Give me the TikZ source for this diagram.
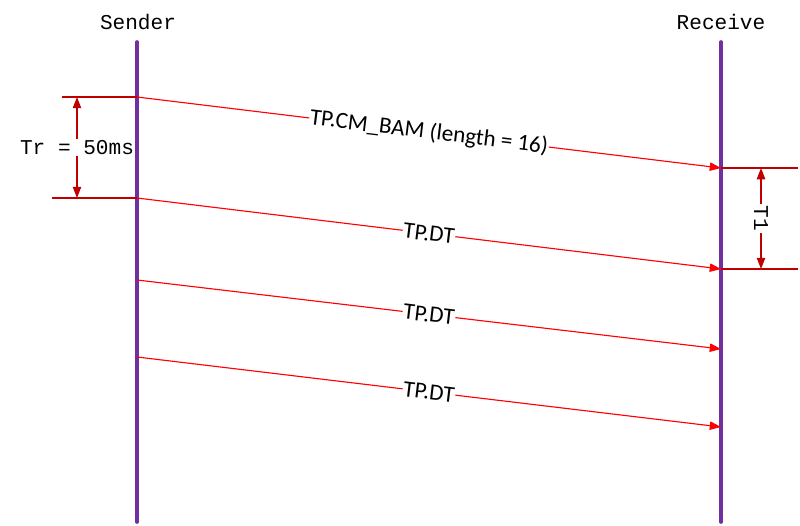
\documentclass[tikz,border=0pt]{standalone}
\usepackage{fontspec}
\setmainfont{Carlito}
\newfontfamily\labelfont{Liberation Mono}
\usetikzlibrary{arrows.meta,calc}
\definecolor{lifepurple}{HTML}{7030A0}
\definecolor{darkred}{HTML}{C00000}
\tikzset{
  lifeline/.style={draw=lifepurple,line width=2.6pt,line cap=round},
  msg/.style={draw=red,line width=0.8pt,-{Triangle[length=8pt,width=6pt]}},
  msgtext/.style={fill=white,inner sep=0.5pt,font=\fontsize{16.5}{18}\selectfont,sloped},
  guide/.style={draw=darkred,line width=0.8pt},
  dim/.style={draw=darkred,line width=0.8pt,{Triangle[length=8pt,width=6pt]}-{Triangle[length=8pt,width=6pt]}},
  dimtext/.style={fill=white,inner sep=1pt,font=\labelfont\fontsize{15}{17}\selectfont}
}
\begin{document}
\begin{tikzpicture}[x=0.025cm,y=-0.025cm]
\useasboundingbox (0,0) rectangle (800,525);

% lifelines
\coordinate (stop) at (137,42);
\coordinate (sbot) at (137,522);
\coordinate (rtop) at (721,42);
\coordinate (rbot) at (721,522);
\draw[lifeline] (stop) -- (sbot);
\draw[lifeline] (rtop) -- (rbot);
\node[font=\labelfont\fontsize{15}{17}\selectfont] (sender) at (138,22) {Sender};
\node[font=\labelfont\fontsize{15}{17}\selectfont] (receive) at (721,22) {Receive};

% message end points
\coordinate (s1) at (137,97);  \coordinate (r1) at (721,168);
\coordinate (s2) at (137,198); \coordinate (r2) at (721,269);
\coordinate (s3) at (137,280); \coordinate (r3) at (721,349);
\coordinate (s4) at (137,357); \coordinate (r4) at (721,427);

% messages
\draw[msg] (s1) -- node[msgtext] {TP.CM\_BAM (length = 16)} (r1);
\draw[msg] (s2) -- node[msgtext] {TP.DT} (r2);
\draw[msg] (s3) -- node[msgtext] {TP.DT} (r3);
\draw[msg] (s4) -- node[msgtext] {TP.DT} (r4);

% Tr interval
\coordinate (tra) at (62,97);
\coordinate (trb) at (52,198);
\draw[guide] (tra) -- (s1);
\draw[guide] (trb) -- (s2);
\draw[dim] (77,97) -- node[dimtext] {Tr = 50ms} (77,198);

% T1 interval
\coordinate (t1a) at (798,168);
\coordinate (t1b) at (798,269);
\draw[guide] (r1) -- (t1a);
\draw[guide] (r2) -- (t1b);
\draw[dim] (761,168) -- node[dimtext,rotate=-90] {T1} (761,269);
\end{tikzpicture}
\end{document}
